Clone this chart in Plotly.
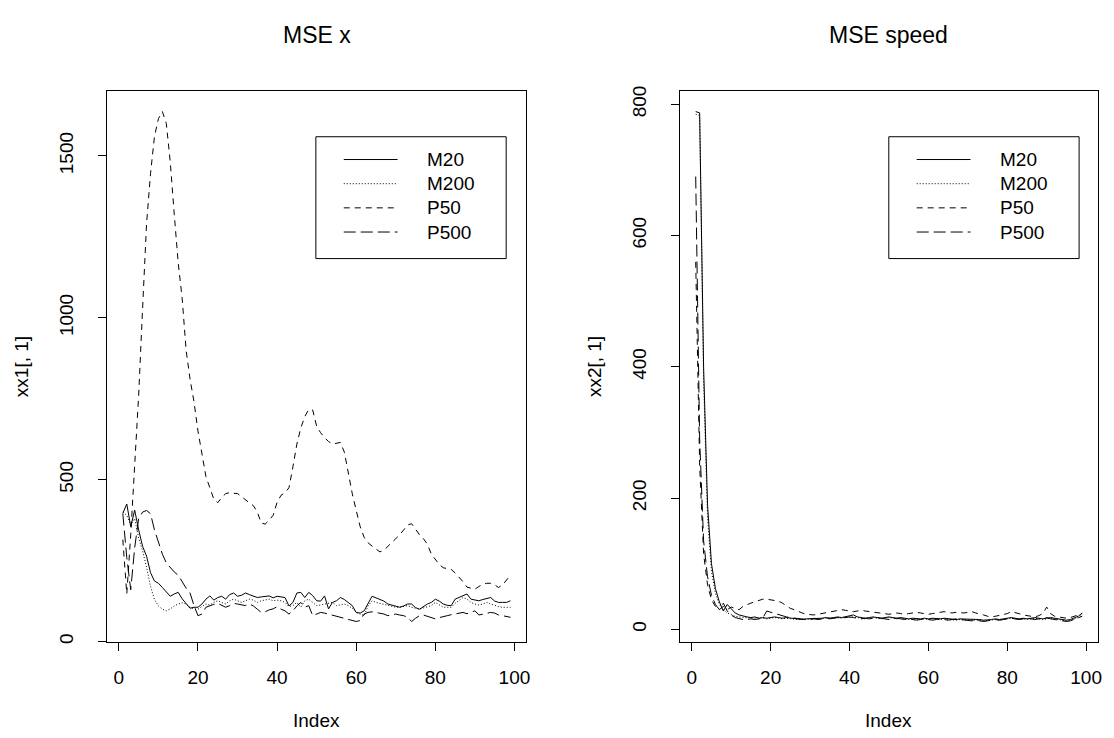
import plotly.graph_objects as go

# ---------------- data ----------------
index = list(range(1, 100))
series_names = ["M20", "M200", "P50", "P500"]

x1_M20 = [396, 425, 355, 406, 345, 294, 264, 213, 187, 180, 167, 152, 140, 147, 152, 132, 116, 103, 106,
          106, 116, 131, 141, 128, 136, 140, 131, 145, 150, 140, 143, 150, 145, 140, 136, 138, 140, 141, 135,
          140, 138, 136, 110, 121, 150,
          152, 136, 152, 142, 126, 125, 141, 101, 121, 126, 136, 130, 121, 111, 90, 88, 95, 116, 140, 135,
          131, 125, 116, 113, 110, 106, 110, 116, 116, 105, 100, 108, 116, 121, 131, 125, 116, 112, 111, 131,
          136, 141, 147, 131, 128, 126, 130, 134, 136, 125, 121, 121, 121, 126]
x1_M200 = [400, 390, 360, 380, 320, 280, 230, 170, 130, 110, 100,
           95, 101, 110, 116, 120, 116, 106, 101, 100, 108, 116, 113, 121, 126, 121, 116, 126, 131, 126, 121,
           126, 131, 128, 121, 126, 128, 131, 126, 128, 126, 121, 108, 111, 121,
           106, 126, 131, 121, 111, 113, 116, 118, 121, 111, 113, 116, 111, 103, 90, 85, 80, 110, 126, 121,
           118, 116, 111, 108, 106, 106, 108, 111, 106, 103, 100, 104, 108, 111, 121, 113, 106, 106, 106, 118,
           126, 136, 131, 121, 116, 113, 116, 121, 116, 111, 108, 106, 106, 106]
x1_P50 = [315, 147, 330, 540, 760, 1030, 1290, 1445, 1560, 1615,
          1637, 1600, 1480, 1320, 1170, 1060, 900, 810, 740, 650,
          580, 510, 475, 440, 429, 445, 457, 460, 458, 457,
          448, 437, 428, 420, 400, 366, 363, 375, 390, 430,
          452, 460, 475, 540, 610, 660, 695, 717, 715, 665,
          645, 630, 618, 610, 612, 615, 585, 520, 457, 405,
          355, 322, 305, 295, 285, 277, 282, 294, 305, 318,
          330, 345, 360, 364, 345, 330, 318, 300, 270, 254,
          238, 228, 225, 223, 212, 200, 185, 168, 165, 162,
          170, 177, 180, 180, 175, 167, 175, 190, 205]
x1_P500 = [395, 260, 160, 290, 380, 400, 405, 395, 345, 310, 270, 243, 228, 215, 205, 185, 165, 150, 111,
           80, 85, 106, 111, 115, 118, 111, 106, 111, 118, 116, 113, 111, 116, 110, 100, 90, 92, 98, 101,
           108, 100, 95, 85, 95, 110,
           121, 106, 111, 80, 85, 90, 88, 85, 80, 78, 75, 72, 70, 65, 62, 65, 85, 90, 92, 90,
           88, 85, 80, 82, 85, 82, 80, 75, 62, 72, 80, 82, 78, 72, 70, 74, 78, 80, 83, 85,
           88, 90, 86, 90, 95, 82, 85, 88, 90, 88, 82, 80, 78, 75]

x2_M20 = [789, 787, 400, 190, 100, 62, 42, 28, 38, 32, 25, 22,
          20, 19, 18, 19, 17, 18, 17, 18, 19, 18, 17, 18, 17, 16, 16, 15, 16, 16, 17, 16,
          17, 18, 17, 18, 19, 18, 19, 20, 22, 19, 18, 17, 18, 19, 18, 17, 18, 19, 18, 17,
          18, 17, 16, 17, 16, 16, 17, 16, 17, 16, 16, 17, 16, 16, 15, 16, 16, 15, 16, 15,
          15, 14, 14, 15, 16, 15, 16, 17, 18, 17, 16, 17, 16, 17, 18, 17, 16, 17, 18, 17,
          16, 15, 14, 15, 17, 20, 25]
x2_M200 = [785, 783, 380, 170, 88, 55, 38, 30, 25, 22, 20, 19,
           18, 18, 17, 17, 18, 17, 16, 17, 18, 17, 16, 17, 16, 15, 15, 16, 15, 16, 17, 16,
           16, 17, 18, 17, 18, 17, 19, 18, 19, 18, 17, 16, 17, 18, 17, 16, 17, 18, 17, 16,
           17, 16, 15, 16, 15, 15, 16, 15, 16, 15, 15, 16, 15, 15, 14, 15, 15, 14, 15, 14,
           14, 13, 14, 14, 15, 14, 15, 16, 17, 16, 15, 16, 15, 16, 17, 16, 15, 16, 17, 16,
           15, 14, 13, 14, 16, 18, 22]
x2_P50 = [560, 250, 115, 68, 45, 35, 30, 35, 30, 34, 32, 30,
          35, 38, 40, 42, 44, 46, 46, 45, 44, 43, 40, 36, 32, 30, 27, 25, 23, 22, 22, 23,
          24, 25, 27, 28, 29, 30, 29, 28, 27, 28, 29, 28, 27, 26, 25, 25, 24, 23, 24, 25,
          24, 23, 24, 25, 26, 25, 24, 23, 24, 25, 26, 27, 26, 25, 26, 25, 25, 26, 27, 25,
          24, 22, 20, 19, 20, 21, 22, 24, 27, 26, 24, 22, 21, 20, 19, 21, 24, 34, 24, 20,
          19, 18, 17, 18, 20, 22, 24]
x2_P500 = [690, 290, 135, 80, 52, 38, 30, 40, 28, 22, 18, 16,
           15, 15, 16, 15, 16, 17, 28, 26, 24, 22, 20, 19, 18, 17, 16, 16, 15, 15, 16, 15,
           16, 17, 16, 17, 18, 17, 18, 19, 18, 17, 16, 17, 16, 17, 18, 17, 16, 15, 16, 17,
           16, 15, 16, 15, 14, 15, 16, 15, 14, 15, 16, 15, 14, 15, 16, 15, 14, 14, 13, 14,
           13, 12, 13, 14, 15, 14, 15, 16, 17, 16, 15, 16, 17, 16, 15, 16, 17, 18, 16, 15,
           14, 13, 12, 13, 15, 17, 20]

x_ticks = [0, 20, 40, 60, 80, 100]
y1_ticks = [0, 500, 1000, 1500]
y2_ticks = [0, 200, 400, 600, 800]

# ---------------- styling ----------------
W, H = 1114, 738
FONT = "Liberation Sans, Arial, sans-serif"
dashes = {"M20": "solid", "M200": "1px,2px", "P50": "6px,5px", "P500": "12px,5px"}

left_px = (107.7, 527.9)
right_px = (682.7, 1101.6)
top_px, bot_px = 87, 643


def pad_range(vals):
    lo, hi = min(vals), max(vals)
    d = 0.04 * (hi - lo)
    return [lo - d, hi + d]


fig = go.Figure()
panels = [
    ("x", "y", {"M20": x1_M20, "M200": x1_M200, "P50": x1_P50, "P500": x1_P500}),
    ("x2", "y2", {"M20": x2_M20, "M200": x2_M200, "P50": x2_P50, "P500": x2_P500}),
]
for xa, ya, data in panels:
    for name in series_names:
        fig.add_trace(go.Scatter(
            x=index, y=data[name], mode="lines", name=name, showlegend=False,
            xaxis=xa, yaxis=ya,
            line=dict(color="black", width=1, dash=dashes[name]),
        ))

axis_common = dict(
    showgrid=False, zeroline=False, showline=True, mirror=True,
    linecolor="black", linewidth=1, ticks="outside", ticklen=8,
    tickcolor="black", tickwidth=1,
    tickfont=dict(family=FONT, size=19, color="black"),
)
xax = dict(ticklabelstandoff=10, **axis_common)
yax = dict(ticklabelstandoff=18, tickangle=-90, **axis_common)
ydom = [(H - bot_px) / H, (H - top_px) / H]
fig.update_layout(
    width=W, height=H, margin=dict(l=0, r=0, t=0, b=0),
    paper_bgcolor="white", plot_bgcolor="white",
    xaxis=dict(domain=[left_px[0] / W, left_px[1] / W], range=pad_range(index),
               tickvals=x_ticks, anchor="y", **xax),
    yaxis=dict(domain=ydom, range=pad_range(x1_M20 + x1_M200 + x1_P50 + x1_P500),
               tickvals=y1_ticks, anchor="x", **yax),
    xaxis2=dict(domain=[right_px[0] / W, right_px[1] / W], range=pad_range(index),
                tickvals=x_ticks, anchor="y2", **xax),
    yaxis2=dict(domain=ydom, range=pad_range(x2_M20 + x2_M200 + x2_P50 + x2_P500),
                tickvals=y2_ticks, anchor="x2", **yax),
)

annotations = []
shapes = []
for (lx0, lx1), title, ylab in [(left_px, "MSE x", "xx1[, 1]"), (right_px, "MSE speed", "xx2[, 1]")]:
    cx = (lx0 + lx1) / 2
    annotations.append(dict(text=title, x=cx / W, y=(H - 30) / H, xref="paper", yref="paper",
                            showarrow=False, xanchor="center", yanchor="middle",
                            font=dict(family=FONT, size=23, color="black")))
    annotations.append(dict(text="Index", x=cx / W, y=(H - 722) / H, xref="paper", yref="paper",
                            showarrow=False, xanchor="center", yanchor="middle",
                            font=dict(family=FONT, size=19, color="black")))
    annotations.append(dict(text=ylab, x=(lx0 - 86) / W, y=(H - (top_px + bot_px) / 2) / H,
                            xref="paper", yref="paper", textangle=-90,
                            showarrow=False, xanchor="center", yanchor="middle",
                            font=dict(family=FONT, size=19, color="black")))
    # legend box
    bx0 = lx0 + 209.3
    shapes.append(dict(type="rect", xref="paper", yref="paper",
                       x0=bx0 / W, x1=(bx0 + 191) / W, y0=(H - 256) / H, y1=(H - 133) / H,
                       line=dict(color="black", width=1), fillcolor="rgba(0,0,0,0)"))
    for k, name in enumerate(series_names):
        yy = 156 + 24.4 * k
        shapes.append(dict(type="line", xref="paper", yref="paper",
                           x0=(bx0 + 28) / W, x1=(bx0 + 82) / W, y0=(H - yy) / H, y1=(H - yy) / H,
                           line=dict(color="black", width=1, dash=dashes[name])))
        annotations.append(dict(text=name, x=(bx0 + 110) / W, y=(H - yy) / H, xref="paper", yref="paper",
                                showarrow=False, xanchor="left", yanchor="middle",
                                font=dict(family=FONT, size=19, color="black")))

fig.update_layout(annotations=annotations, shapes=shapes)
fig.write_html("out.html")
